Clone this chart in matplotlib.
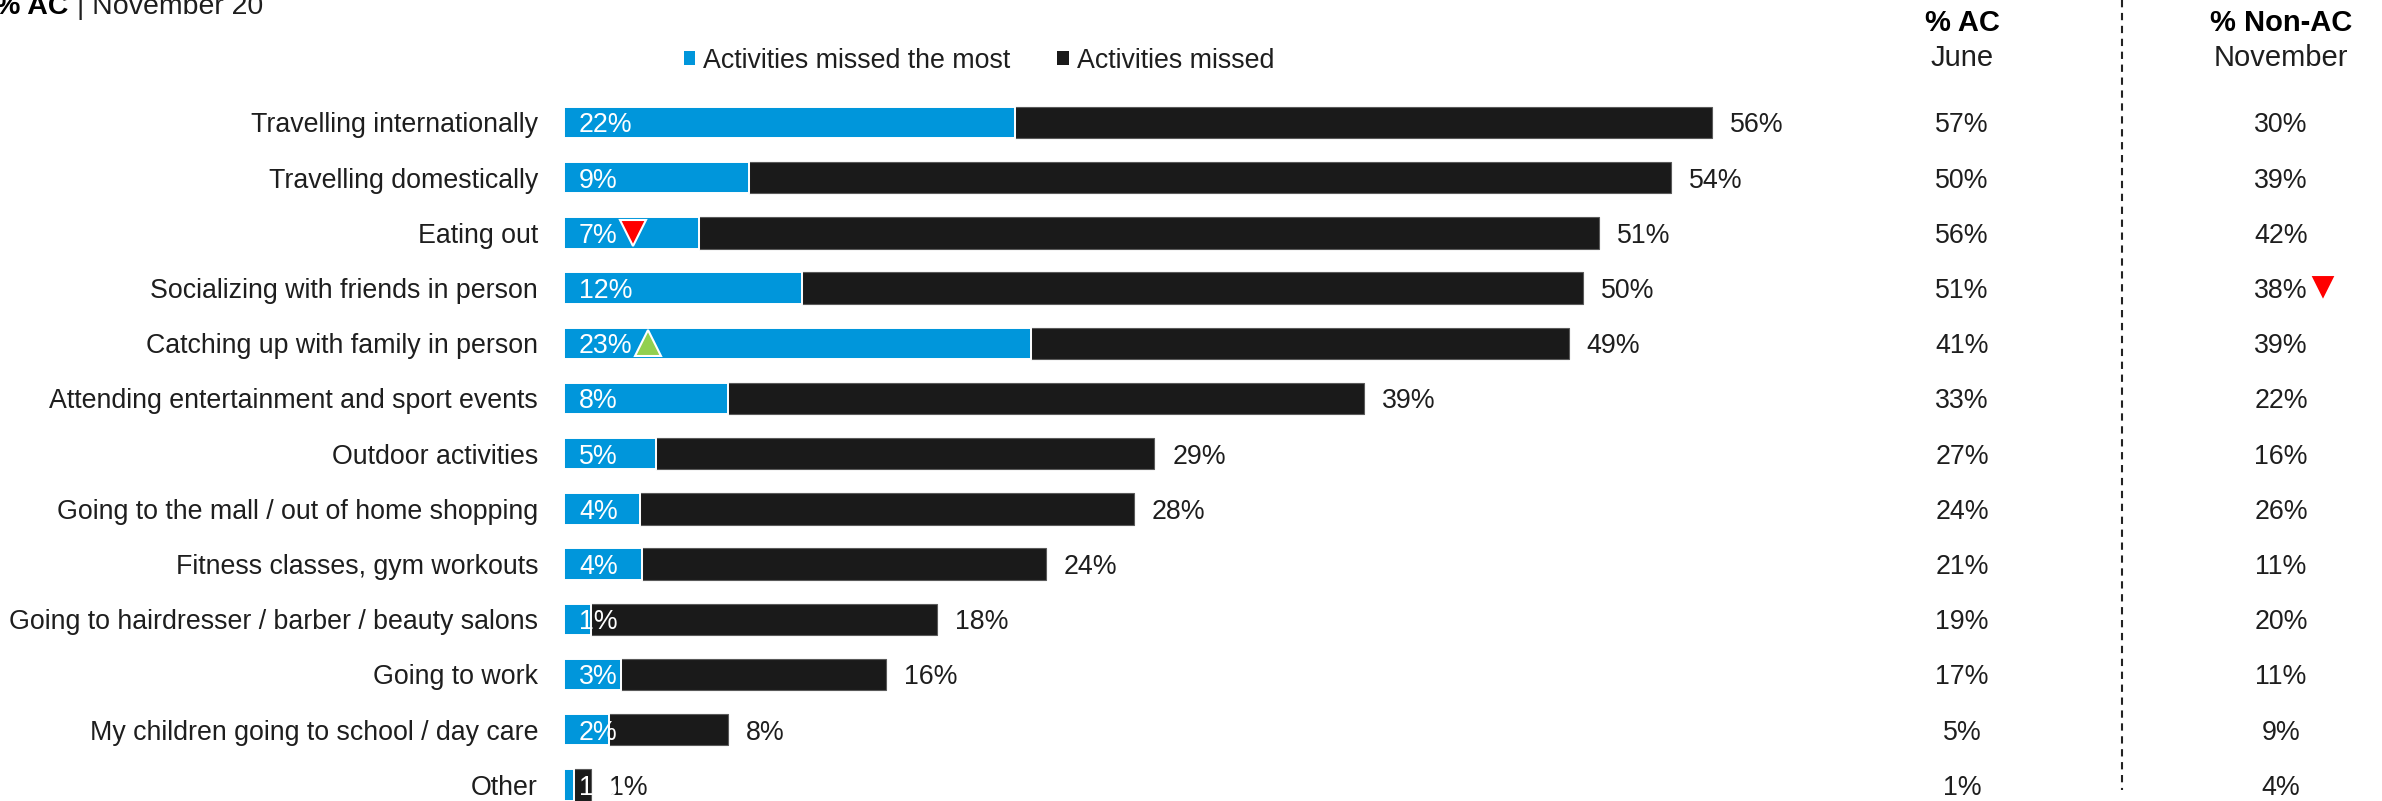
import math
import matplotlib
matplotlib.use("Agg")
import matplotlib.pyplot as plt
from matplotlib.patches import Patch
from matplotlib.transforms import blended_transform_factory

categories = [
    "Travelling internationally",
    "Travelling domestically",
    "Eating out",
    "Socializing with friends in person",
    "Catching up with family in person",
    "Attending entertainment and sport events",
    "Outdoor activities",
    "Going to the mall / out of home shopping",
    "Fitness classes, gym workouts",
    "Going to hairdresser / barber / beauty salons",
    "Going to work",
    "My children going to school / day care",
    "Other",
]
missed_most = [22, 9, 6.6, 11.6, 22.8, 8, 4.5, 3.7, 3.8, 1.3, 2.8, 2.2, 0.5]
missed = [56, 54, 50.5, 49.7, 49, 39, 28.8, 27.8, 23.5, 18.2, 15.7, 8, 1.3]
ac_june = [57, 50, 56, 51, 41, 33, 27, 24, 21, 19, 17, 5, 1]
non_ac_november = [30, 39, 42, 38, 39, 22, 16, 26, 11, 20, 11, 9, 4]

# significant change vs. previous wave: 1 = up, -1 = down
missed_most_change = [0, 0, -1, 0, 1, 0, 0, 0, 0, 0, 0, 0, 0]
non_ac_change = [0, 0, 0, -1, 0, 0, 0, 0, 0, 0, 0, 0, 0]

BLUE = "#0096DB"
BLACK = "#1A1A1A"
TEXT = "#1E1E1E"
UP = "#92D050"
DOWN = "#FF0000"
FS = 19.3
HEAD_FS = 21


def pct(v):
    # round half up, like the spreadsheet labels
    return f"{math.floor(v + 0.5):d}%"


plt.rcParams["font.family"] = ["Liberation Sans", "DejaVu Sans"]

fig = plt.figure(figsize=(23.82, 8.01), dpi=100)
ax = fig.add_axes([564 / 2382, 0, 1 - 564 / 2382, 1])

rows = list(range(len(categories)))
ax.barh(rows, [t - m for t, m in zip(missed, missed_most)], left=missed_most,
        height=0.57, color=BLACK, edgecolor="#5a5a5a", linewidth=0.8, zorder=2)
ax.barh(rows, missed_most, height=0.57, color=BLUE, edgecolor="white",
        linewidth=1.4, zorder=3)

ax.set_xlim(0, 88.68)
ax.set_ylim(12.292, -2.219)
ax.set_yticks(rows, categories, fontsize=FS, color=TEXT)
ax.tick_params(axis="y", length=0, pad=18.7)
ax.set_xticks([])
for s in ax.spines.values():
    s.set_visible(False)

inner_labels = []
for i, (m, t) in enumerate(zip(missed_most, missed)):
    lab = ax.annotate(pct(m), xy=(0, i), xytext=(10.8, 0), textcoords="offset points",
                      ha="left", va="center_baseline", fontsize=FS, color="white",
                      zorder=5, annotation_clip=False)
    inner_labels.append(lab)
    ax.annotate(pct(t), xy=(t, i), xytext=(13, 0), textcoords="offset points",
                ha="left", va="center_baseline", fontsize=FS, color=TEXT,
                annotation_clip=False)

# side columns for comparison
side = blended_transform_factory(fig.transFigure, ax.transData)
col_x = [1962 / 2382, 2281 / 2382]
headers = [("% AC", "June"), ("% Non-AC", "November")]
for cx, (top, sub) in zip(col_x, headers):
    fig.text(cx, 1 - 30.7 / 801, top, ha="center", va="baseline", fontsize=HEAD_FS,
             fontweight="bold", color="black")
    fig.text(cx, 1 - 65.7 / 801, sub, ha="center", va="baseline", fontsize=HEAD_FS,
             color=TEXT)

ac_labels, non_ac_labels = [], []
for i, (a, n) in enumerate(zip(ac_june, non_ac_november)):
    ac_labels.append(ax.text(col_x[0], i, pct(a), transform=side, ha="center",
                             va="center_baseline", fontsize=FS, color=TEXT))
    non_ac_labels.append(ax.text(col_x[1], i, pct(n), transform=side, ha="center",
                                 va="center_baseline", fontsize=FS, color=TEXT))

ax.plot([2121.7 / 2382] * 2, [ax.get_ylim()[1], 12.1], transform=side,
        color="#222222", lw=1.5, ls=(0, (3.5, 2.7)), clip_on=False)

fig.legend(handles=[Patch(facecolor=BLUE), Patch(facecolor=BLACK)],
           labels=["Activities missed the most", "Activities missed"],
           loc="center left", bbox_to_anchor=(684 / 2382, 1 - 61 / 801), ncol=2,
           frameon=False, fontsize=FS, labelcolor=TEXT, handlelength=0.42,
           handleheight=0.42, handletextpad=0.3, columnspacing=1.75,
           borderpad=0, borderaxespad=0)

# header text at the top left of the slide
fig.text(68 / 2382, 1 - 14 / 801, "% AC", ha="right", va="baseline", fontsize=20.5,
         fontweight="bold", color="black")
fig.text(77 / 2382, 1 - 14 / 801, "| November 20", ha="left", va="baseline",
         fontsize=20.5, color=TEXT)

# change arrows sit just after their labels
fig.canvas.draw()
renderer = fig.canvas.get_renderer()


def add_arrow(label, row, change):
    if change == 0:
        return
    bb = label.get_window_extent(renderer)
    y_disp = ax.transData.transform((0, row))[1]
    x_data = ax.transData.inverted().transform((bb.x1 + 15, y_disp))[0]
    ax.plot(x_data, row, marker="^" if change > 0 else "v", markersize=19,
            color=UP if change > 0 else DOWN, markeredgecolor="white",
            markeredgewidth=1.5, clip_on=False, zorder=6)


for i, ch in enumerate(missed_most_change):
    add_arrow(inner_labels[i], i, ch)
for i, ch in enumerate(non_ac_change):
    add_arrow(non_ac_labels[i], i, ch)

fig.savefig("out.png", dpi=100)
